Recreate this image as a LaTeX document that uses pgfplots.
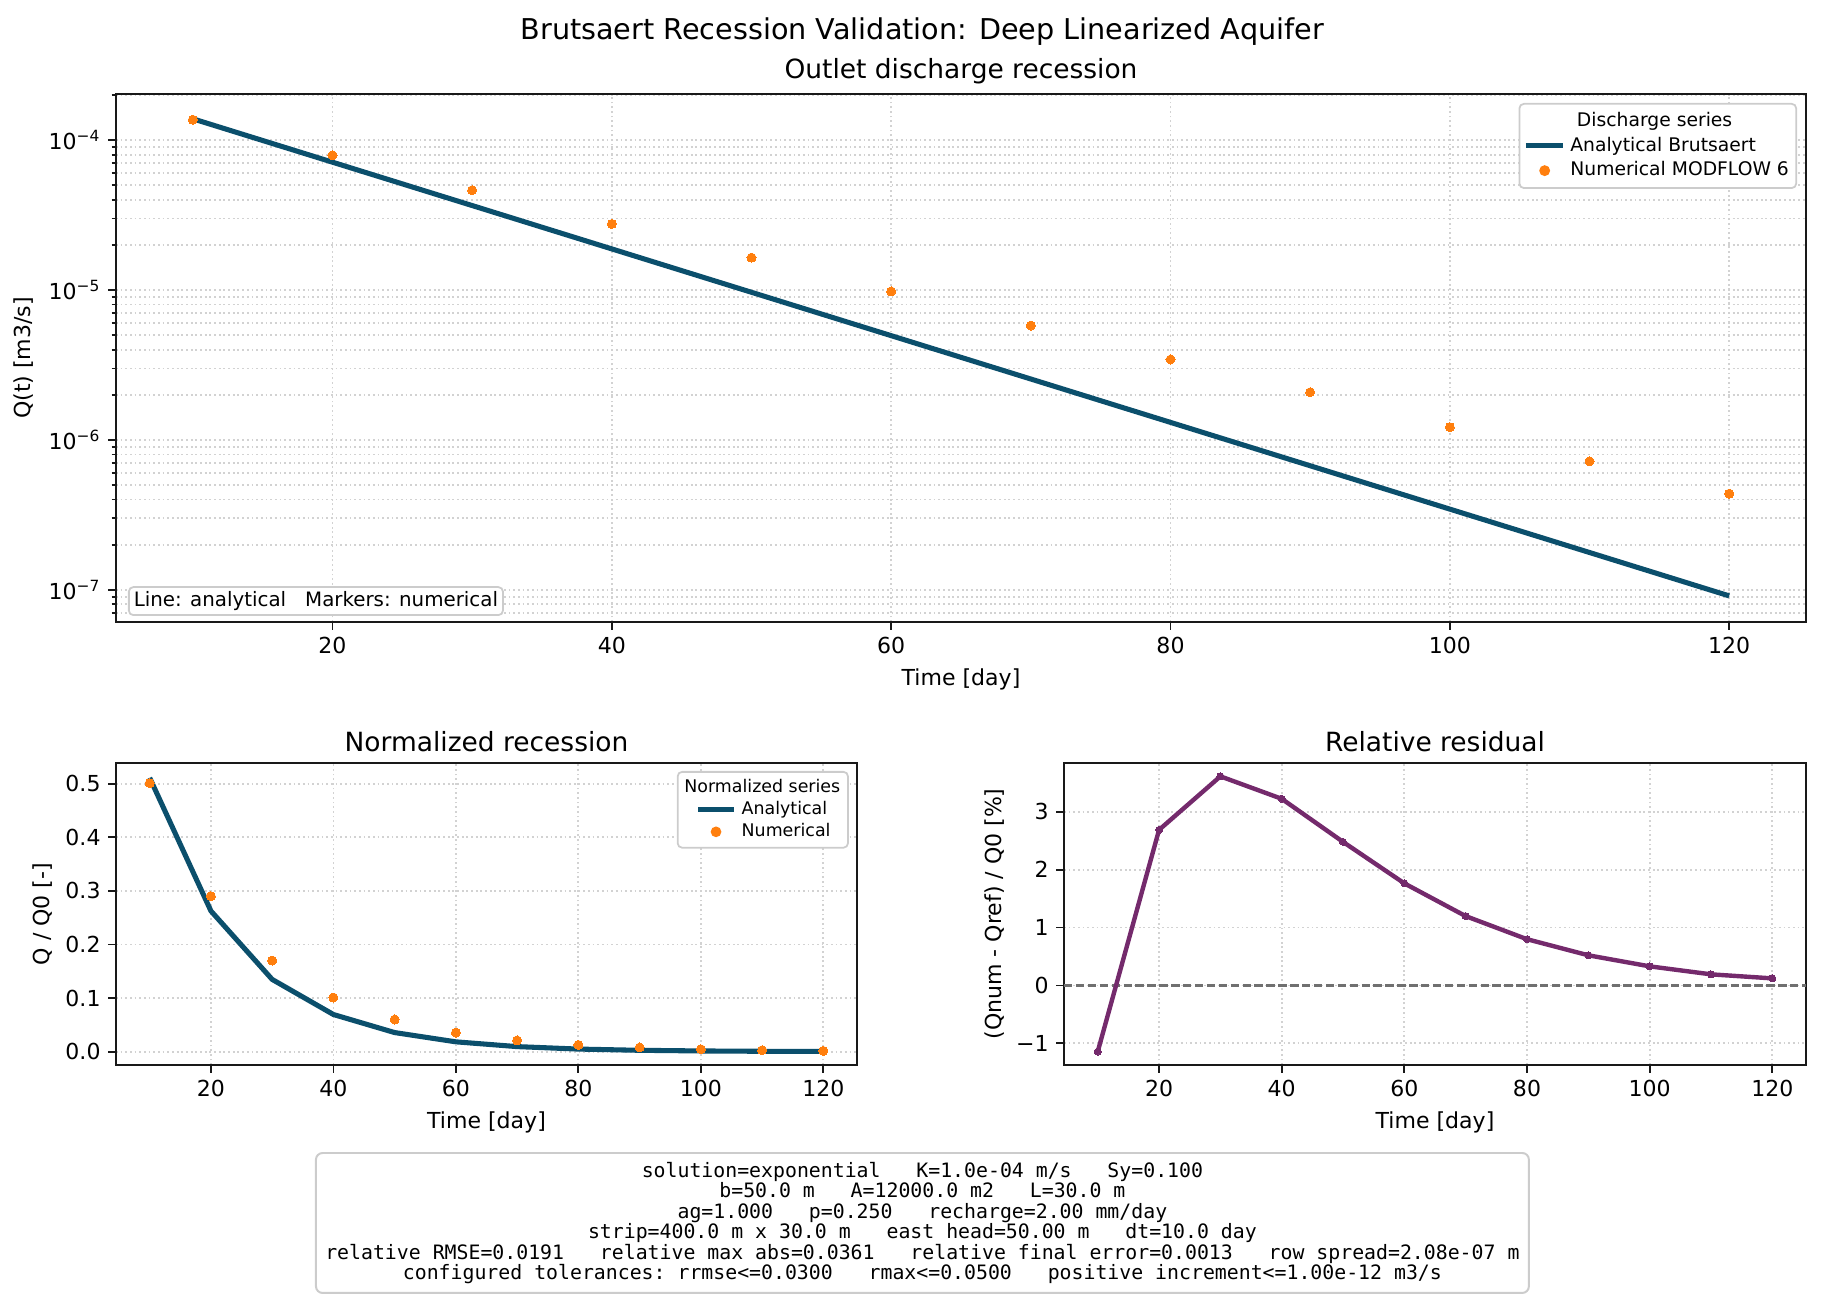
\documentclass[border=0pt]{standalone}
\usepackage{pgfplots}
\usepackage{pgfplotstable}
\pgfplotsset{compat=1.18}
\usepackage{fontspec}
\setmainfont{DejaVu Sans}
\setmonofont{DejaVu Sans Mono}

\definecolor{anacol}{HTML}{0B4F6C}
\definecolor{numcol}{HTML}{FF7F0E}
\definecolor{rescol}{HTML}{742A6C}
\definecolor{gridcol}{HTML}{D2D2D2}
\definecolor{framecol}{HTML}{CCCCCC}
\definecolor{zerocol}{HTML}{707070}

% outlet discharge [m3/s]
\pgfplotstableread{
t    ana       num
10   1.387e-4  1.368e-4
20   7.124e-5  7.91e-5
30   3.660e-5  4.63e-5
40   1.880e-5  2.76e-5
50   9.656e-6  1.645e-5
60   4.960e-6  9.79e-6
70   2.548e-6  5.79e-6
80   1.309e-6  3.44e-6
90   6.724e-7  2.08e-6
100  3.454e-7  1.216e-6
110  1.774e-7  7.19e-7
120  9.11e-8   4.38e-7
}\discharge

% discharge normalised by Q0
\pgfplotstableread{
t    ana      num
10   0.511    0.501
20   0.2625   0.290
30   0.1348   0.170
40   0.0693   0.101
50   0.0356   0.060
60   0.0183   0.0355
70   0.0094   0.021
80   0.0048   0.0126
90   0.0025   0.0078
100  0.0013   0.0045
110  0.00065  0.0026
120  0.00033  0.0015
}\normalized

% (Qnum - Qref) / Q0 in percent
\pgfplotstableread{
t    res
10   -1.145
20   2.688
30   3.613
40   3.225
50   2.480
60   1.763
70   1.197
80   0.798
90   0.520
100  0.329
110  0.191
120  0.121
}\residual

\pgfplotsset{
  mplbase/.style={
    scale only axis,
    anchor=south west,
    xmin=4.5, xmax=125.5,
    xtick={20,40,60,80,100,120},
    axis line style={line width=0.8bp, black!90},
    tick style={line width=0.8bp, black!90},
    tick align=outside,
    tick pos=left,
    major tick length=3.5bp,
    minor tick length=2bp,
    grid=major,
    major grid style={gridcol, line width=0.8bp, dash pattern=on 0.8bp off 1.32bp},
    minor grid style={gridcol, line width=0.8bp, dash pattern=on 0.8bp off 1.32bp},
    tick label style={font=\fontsize{10bp}{12bp}\selectfont},
    label style={font=\fontsize{10bp}{12bp}\selectfont},
    every axis title shift=0pt,
    title style={font=\fontsize{12bp}{14bp}\selectfont, anchor=center},
    /pgf/number format/assume math mode=true,
    /pgf/number format/1000 sep={},
    legend cell align=left,
  },
  analine/.style={anacol, line width=2.3bp, line join=round,
    legend image code/.code={\draw[anacol, line width=2.3bp] (0bp,0bp) -- (17bp,0bp);}},
  numdots/.style={only marks, mark=*, mark size=2.05bp, numcol,
    mark options={draw=numcol, fill=numcol, line width=0pt},
    legend image code/.code={\fill[numcol] (8.5bp,0bp) circle (2.05bp);}},
}

\begin{document}
\begin{tikzpicture}
\useasboundingbox (0,0) rectangle (826.19bp,591.62bp);

\node[font=\fontsize{13bp}{15bp}\selectfont] at (418.4bp,577.4bp)
  {Brutsaert Recession Validation: Deep Linearized Aquifer};

% outlet discharge on a log scale
\begin{axis}[mplbase,
  at={(52.63bp,309.42bp)}, width=766.75bp, height=239.55bp,
  ymode=log, ymin=6.1e-8, ymax=2.03e-4,
  ytick={1e-7,1e-6,1e-5,1e-4},
  yticklabels={10\textsuperscript{−7},10\textsuperscript{−6},10\textsuperscript{−5},10\textsuperscript{−4}},
  minor ytick={7e-8,8e-8,9e-8,2e-7,3e-7,4e-7,5e-7,6e-7,7e-7,8e-7,9e-7,2e-6,3e-6,4e-6,5e-6,6e-6,7e-6,8e-6,9e-6,2e-5,3e-5,4e-5,5e-5,6e-5,7e-5,8e-5,9e-5,2e-4},
  yminorgrids=true,
  title={Outlet discharge recession},
  title style={at={(axis description cs:0.5,1.0436)}},
  xlabel={Time [day]},
  xlabel style={at={(axis description cs:0.5,-0.108)}, anchor=center},
  ylabel={Q(t) [m3/s]},
  ylabel style={at={(axis description cs:-0.0544,0.5)}, anchor=center},
  legend style={at={(axis description cs:0.9947,0.983)}, anchor=north east,
    draw=framecol, line width=0.8bp, rounded corners=2bp, fill=white,
    font=\fontsize{8.5bp}{10bp}\selectfont,
    inner xsep=1.8bp, inner ysep=2.3bp, row sep=0bp, column sep=0.5bp,
    nodes={inner xsep=1.5bp, inner ysep=1bp, text height=6.9bp, text depth=2.3bp}},
]
\addlegendimage{legend image code/.code={}}
\addlegendentry{\hspace*{3bp}Discharge series}
\addplot[analine] table[x=t, y=ana] {\discharge};
\addlegendentry{Analytical Brutsaert}
\addplot[numdots] table[x=t, y=num] {\discharge};
\addlegendentry{Numerical MODFLOW 6}
\node[draw=framecol, line width=0.8bp, rounded corners=2bp, fill=white,
  anchor=south west, minimum width=169.7bp, minimum height=12.7bp, inner sep=0pt,
  font=\fontsize{9bp}{11bp}\selectfont]
  at (axis description cs:0.0071,0.0114) {Line: analytical~~~Markers: numerical};
\end{axis}

% normalized recession
\begin{axis}[mplbase,
  at={(52.63bp,108.43bp)}, width=336.19bp, height=137.02bp,
  ymin=-0.0249, ymax=0.5386,
  ytick={0,0.1,0.2,0.3,0.4,0.5},
  yticklabel style={/pgf/number format/fixed, /pgf/number format/fixed zerofill, /pgf/number format/precision=1},
  title={Normalized recession},
  title style={at={(axis description cs:0.5,1.0695)}},
  xlabel={Time [day]},
  xlabel style={at={(axis description cs:0.5,-0.189)}, anchor=center},
  ylabel={Q / Q0 [-]},
  ylabel style={at={(axis description cs:-0.0985,0.5)}, anchor=center},
  legend style={at={(axis description cs:0.989,0.9735)}, anchor=north east,
    draw=framecol, line width=0.8bp, rounded corners=2bp, fill=white,
    font=\fontsize{7.9bp}{9.5bp}\selectfont,
    inner xsep=2bp, inner ysep=2.2bp, row sep=0bp, column sep=1bp,
    nodes={inner xsep=1.5bp, inner ysep=1bp, text height=6.1bp, text depth=1.9bp}},
]
\addlegendimage{legend image code/.code={\path[draw=none, fill=none] (-7.4bp,0bp) rectangle (16bp,0bp);}}
\addlegendentry{\hspace*{-26bp}Normalized series}
\addplot[analine, legend image code/.code={\path[draw=none, fill=none] (-7.4bp,0bp) rectangle (-7.4bp,0bp); \draw[anacol, line width=2.3bp] (0bp,0bp) -- (16bp,0bp);}]
  table[x=t, y=ana] {\normalized};
\addlegendentry{Analytical}
\addplot[numdots, legend image code/.code={\path[draw=none, fill=none] (-7.4bp,0bp) rectangle (-7.4bp,0bp); \fill[numcol] (8bp,0bp) circle (2bp);}]
  table[x=t, y=num] {\normalized};
\addlegendentry{Numerical}
\end{axis}

% relative residual
\begin{axis}[mplbase,
  at={(482.74bp,108.43bp)}, width=336.65bp, height=137.02bp,
  ymin=-1.376, ymax=3.844,
  ytick={-1,0,1,2,3},
  yticklabels={−1,0,1,2,3},
  title={Relative residual},
  title style={at={(axis description cs:0.5,1.0695)}},
  xlabel={Time [day]},
  xlabel style={at={(axis description cs:0.5,-0.189)}, anchor=center},
  ylabel={(Qnum - Qref) / Q0 [\%]},
  ylabel style={at={(axis description cs:-0.093,0.5)}, anchor=center},
]
\addplot[zerocol, line width=1.1bp, dash pattern=on 3.8bp off 1.6bp] coordinates {(4.5,0) (125.5,0)};
\addplot[rescol, line width=2bp, line join=round, mark=*, mark size=1.6bp,
  mark options={fill=rescol, draw=rescol, line width=0pt}]
  table[x=t, y=res] {\residual};
\end{axis}

% run parameters and error summary
\node[draw=framecol, line width=0.9bp, rounded corners=3bp, fill=white,
  align=center, minimum width=550.3bp, minimum height=63.5bp, inner sep=0pt,
  font=\ttfamily\fontsize{9bp}{9.3bp}\selectfont] at (418.5bp,36.75bp)
  {solution=exponential~~~K=1.0e-04 m/s~~~Sy=0.100\\
   b=50.0 m~~~A=12000.0 m2~~~L=30.0 m\\
   ag=1.000~~~p=0.250~~~recharge=2.00 mm/day\\
   strip=400.0 m x 30.0 m~~~east head=50.00 m~~~dt=10.0 day\\
   relative RMSE=0.0191~~~relative max abs=0.0361~~~relative final error=0.0013~~~row spread=2.08e-07 m\\
   configured tolerances: rrmse<=0.0300~~~rmax<=0.0500~~~positive increment<=1.00e-12 m3/s};
\end{tikzpicture}
\end{document}
